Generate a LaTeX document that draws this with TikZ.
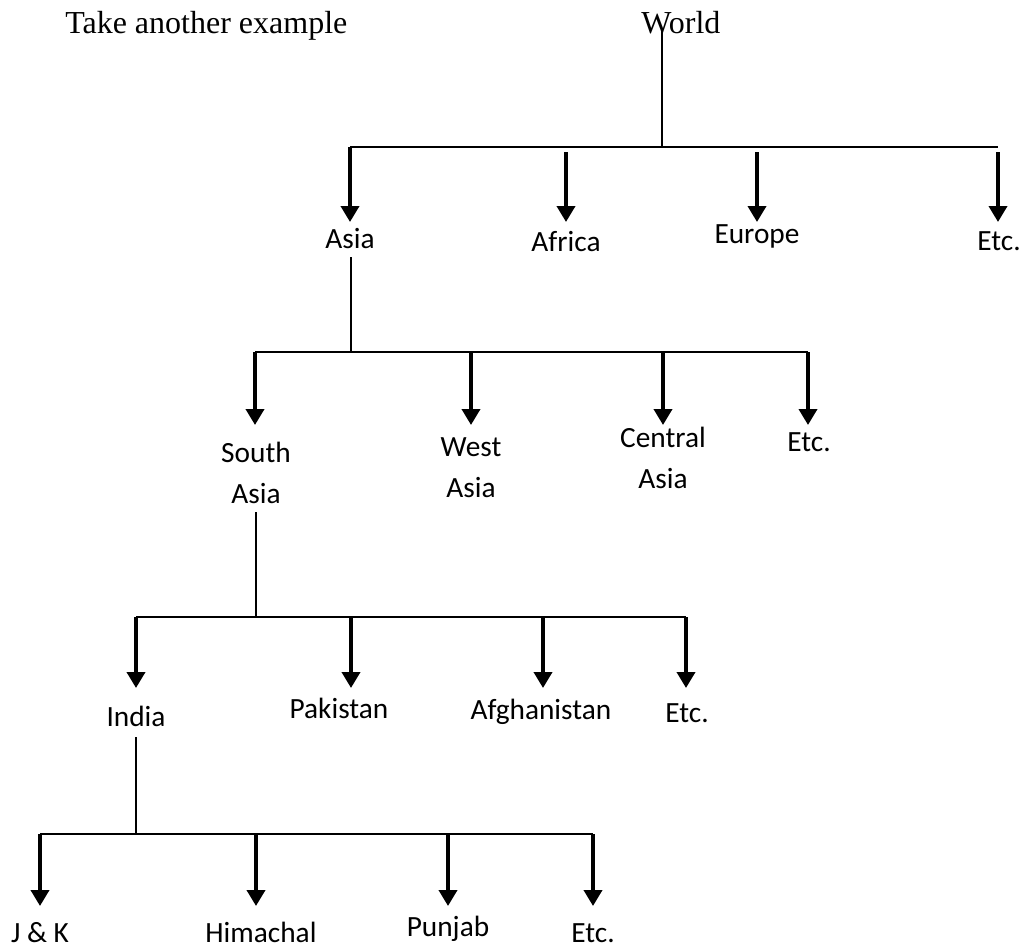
\documentclass[tikz,border=0pt]{standalone}
\usepackage{fontspec}
\setmainfont{Liberation Serif}
\newfontfamily\labfont{Carlito}
\usetikzlibrary{arrows.meta,calc}
\tikzset{
  lab/.style={font=\labfont\fontsize{22}{30.75}\selectfont, inner sep=0pt, anchor=base, align=center},
  ttl/.style={font=\fontsize{24}{28}\selectfont, inner sep=0pt, anchor=base west},
  trunk/.style={line width=1.5pt},
  bar/.style={line width=1.8pt},
  arr/.style={line width=2.8pt, -{Triangle[width=13.5pt,length=12pt]}}
}
\begin{document}
\begin{tikzpicture}[x=0.75pt,y=-0.75pt]
\useasboundingbox (0,0) rectangle (1025,950);
% texts
\node[ttl] (title) at (65,33) {Take another example};
\node[ttl] (world) at (641,33) {World};
\node[lab] (asia) at (350,248) {Asia};
\node[lab] (africa) at (566,251) {Africa};
\node[lab] (europe) at (757,243) {Europe};
\node[lab] (etca) at (999,250) {Etc.};
\node[lab] (sasia) at (256,503) {South\\Asia};
\node[lab] (wasia) at (471,497) {West\\Asia};
\node[lab] (casia) at (663,488) {Central\\Asia};
\node[lab] (etcb) at (809,451) {Etc.};
\node[lab] (india) at (136,726) {India};
\node[lab] (pak) at (339,718) {Pakistan};
\node[lab] (afg) at (541,719) {Afghanistan};
\node[lab] (etcc) at (687,722) {Etc.};
\node[lab] (jk) at (40,942) {J \& K};
\node[lab] (him) at (261,942) {Himachal};
\node[lab] (pun) at (448,936) {Punjab};
\node[lab] (etcd) at (593,942) {Etc.};
% junction coordinates
\coordinate (w0) at (662,30);
\coordinate (w1) at (662,147);
\coordinate (a1) at (350,147);
\coordinate (a2) at (566,152);
\coordinate (a3) at (757,152);
\coordinate (a4) at (998,147);
\coordinate (a4s) at (998,152);
\coordinate (s0) at (351,257);
\coordinate (s1) at (351,352);
\coordinate (b1) at (255,352);
\coordinate (b2) at (471,352);
\coordinate (b3) at (663,352);
\coordinate (b4) at (808,352);
\coordinate (t0) at (256,512);
\coordinate (t1) at (256,617);
\coordinate (c1) at (136,617);
\coordinate (c2) at (351,617);
\coordinate (c3) at (543,617);
\coordinate (c4) at (686,617);
\coordinate (u0) at (136,737);
\coordinate (u1) at (136,834);
\coordinate (d1) at (40,834);
\coordinate (d2) at (256,834);
\coordinate (d3) at (448,834);
\coordinate (d4) at (593,834);
% level 1
\draw[trunk] (w0) -- (w1);
\draw[bar] (a1) -- (a4);
\draw[arr] (a1) -- ++(0,75);
\draw[arr] (a2) -- ++(0,70);
\draw[arr] (a3) -- ++(0,70);
\draw[arr] (a4s) -- ++(0,70);
% level 2
\draw[trunk] (s0) -- (s1);
\draw[bar] (b1) -- (b4);
\draw[arr] (b1) -- ++(0,73);
\draw[arr] (b2) -- ++(0,73);
\draw[arr] (b3) -- ++(0,73);
\draw[arr] (b4) -- ++(0,73);
% level 3
\draw[trunk] (t0) -- (t1);
\draw[bar] (c1) -- (c4);
\draw[arr] (c1) -- ++(0,71);
\draw[arr] (c2) -- ++(0,71);
\draw[arr] (c3) -- ++(0,71);
\draw[arr] (c4) -- ++(0,71);
% level 4
\draw[trunk] (u0) -- (u1);
\draw[bar] (d1) -- (d4);
\draw[arr] (d1) -- ++(0,72);
\draw[arr] (d2) -- ++(0,72);
\draw[arr] (d3) -- ++(0,72);
\draw[arr] (d4) -- ++(0,72);
\end{tikzpicture}
\end{document}
